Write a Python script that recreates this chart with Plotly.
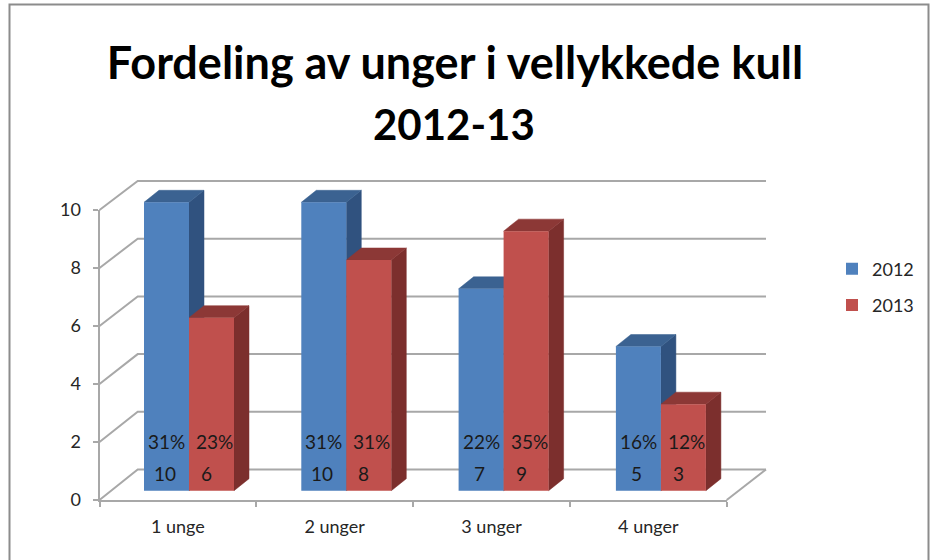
import plotly.graph_objects as go

categories = ["1 unge", "2 unger", "3 unger", "4 unger"]
values_2012 = [10, 10, 7, 5]
values_2013 = [6, 8, 9, 3]
pct_2012 = ["31%", "31%", "22%", "16%"]
pct_2013 = ["23%", "31%", "35%", "12%"]
y_ticks = [0, 2, 4, 6, 8, 10]

W, H = 934, 560
FONT = "Lato"
BLUE, BLUE_SIDE, BLUE_TOP = "#4F81BD", "#30527F", "#3B6291"
RED, RED_SIDE, RED_TOP = "#C0504D", "#7C2F2D", "#8C3836"
GRID = "#A8A8A8"
TXT = "#262626"

# pixel geometry of the pseudo-3D box
PX_PER_CAT, PX_PER_VAL = 157.3, 28.84
X0_PX, Y0_PX = 189.0, 490.7
BAR_W = 45.0 / PX_PER_CAT
DX, DY = 15.0 / PX_PER_CAT, 12.0 / PX_PER_VAL


def fx(px):
    return (px - X0_PX) / PX_PER_CAT


def fy(py):
    return (Y0_PX - py) / PX_PER_VAL


def faces(values, left):
    side_x, side_y, top_x, top_y = [], [], [], []
    for i, v in enumerate(values):
        a = i + left
        b = a + BAR_W
        side_x += [b, b + DX, b + DX, b, b, None]
        side_y += [0, DY, v + DY, v, 0, None]
        top_x += [a, a + DX, b + DX, b, a, None]
        top_y += [v, v + DY, v + DY, v, v, None]
    return side_x, side_y, top_x, top_y


fig = go.Figure()

# real axes (carries ticks, tick labels and the floor's front edge)
fig.add_trace(go.Scatter(x=categories, y=values_2012, mode="none", xaxis="x", yaxis="y",
                         showlegend=False, hoverinfo="skip"))

# walls and floor of the box
wall_x, wall_y = [], []
for v in y_ticks:
    wall_x += [fx(99.5), fx(137.7), fx(766), None]
    wall_y += [fy(500 - 29 * v), fy(469.5 - 28.85 * v), fy(469.5 - 28.85 * v), None]
wall_x += [fx(766), fx(726.7)]
wall_y += [fy(469.5), fy(500)]
fig.add_trace(go.Scatter(x=wall_x, y=wall_y, mode="lines", line=dict(color=GRID, width=2),
                         xaxis="x2", yaxis="y2", showlegend=False, hoverinfo="skip"))

# side and top faces, back to front
for values, left, side_c, top_c in [(values_2012, -BAR_W, BLUE_SIDE, BLUE_TOP),
                                    (values_2013, 0.0, RED_SIDE, RED_TOP)]:
    sx, sy, tx, ty = faces(values, left)
    for xs, ys, col in [(sx, sy, side_c), (tx, ty, top_c)]:
        fig.add_trace(go.Scatter(x=xs, y=ys, mode="lines", fill="toself", fillcolor=col,
                                 line=dict(color=col, width=0.5), xaxis="x2", yaxis="y2",
                                 showlegend=False, hoverinfo="skip"))

# front faces
idx = list(range(len(categories)))
fig.add_trace(go.Bar(x=idx, y=values_2012, name="2012", marker=dict(color=BLUE, line_width=0),
                     xaxis="x3", yaxis="y3", legendgroup="2012"))
fig.add_trace(go.Bar(x=idx, y=values_2013, name="2013", marker=dict(color=RED, line_width=0),
                     xaxis="x3", yaxis="y3", legendgroup="2013"))

# data labels inside the bars
annotations = []
for i in idx:
    for txt, v_off, x_off, y_val in [
        (pct_2012[i], -BAR_W / 2, 0, fy(441)),
        (pct_2013[i], BAR_W / 2, 3, fy(441)),
        (str(values_2012[i]), -BAR_W / 2, -2, fy(473)),
        (str(values_2013[i]), BAR_W / 2, -5, fy(473)),
    ]:
        annotations.append(dict(x=i + v_off, y=y_val, xref="x3", yref="y3", text=txt,
                                showarrow=False, xshift=x_off,
                                font=dict(family=FONT, size=19, color="#1a1a1a")))

annotations.append(dict(x=454 / W, y=1 - 124 / H, xref="paper", yref="paper", text="<b>2012-13</b>",
                        showarrow=False, xanchor="center", yanchor="middle",
                        font=dict(family=FONT, size=42, color="#000000")))

range_x = [fx(0), fx(W)]
range_y = [fy(H), fy(0)]
hidden = dict(visible=False, showgrid=False, zeroline=False, automargin=False)

fig.update_layout(
    width=W, height=H, autosize=False,
    margin=dict(l=0, r=0, t=0, b=0, pad=0),
    paper_bgcolor="white", plot_bgcolor="rgba(0,0,0,0)",
    font=dict(family=FONT, color=TXT, size=18),
    barmode="group", bargap=1 - 2 * BAR_W, bargroupgap=0,
    title=dict(text="<b>Fordeling av unger i vellykkede kull</b>", x=455 / W, xanchor="center",
               y=1 - 63 / H, yanchor="middle", font=dict(family=FONT, size=45, color="#000000")),
    xaxis=dict(domain=[99.5 / W, 726.7 / W], type="category", categoryorder="array",
               categoryarray=categories, range=[-0.5, 3.5], tickson="boundaries", anchor="y",
               ticks="outside", ticklen=5, tickcolor=GRID, tickwidth=2, showline=True,
               linecolor=GRID, linewidth=2, showgrid=False, zeroline=False, automargin=False,
               tickfont=dict(family=FONT, size=18, color=TXT), ticklabelstandoff=9),
    yaxis=dict(domain=[1 - 500 / H, 1 - 210 / H], range=[0, 10], tickvals=y_ticks, anchor="x",
               ticks="outside", ticklen=5, tickcolor=GRID, tickwidth=2, showline=True,
               linecolor=GRID, linewidth=2, showgrid=False, zeroline=False, automargin=False,
               tickfont=dict(family=FONT, size=18, color=TXT), ticklabelstandoff=8),
    xaxis2=dict(domain=[0, 1], range=range_x, anchor="y2", **hidden),
    yaxis2=dict(domain=[0, 1], range=range_y, anchor="x2", **hidden),
    xaxis3=dict(domain=[0, 1], range=range_x, anchor="y3", **hidden),
    yaxis3=dict(domain=[0, 1], range=range_y, anchor="x3", **hidden),
    legend=dict(x=832 / W, xanchor="left", y=1 - 250.5 / H, yanchor="top", tracegroupgap=10,
                bgcolor="rgba(0,0,0,0)", font=dict(family=FONT, size=18, color=TXT)),
    annotations=annotations,
    shapes=[dict(type="rect", xref="paper", yref="paper", x0=9.5 / W, x1=928.5 / W,
                 y0=-0.05, y1=1 - 4.5 / H, line=dict(color="#8C8C8C", width=2),
                 fillcolor="rgba(0,0,0,0)", layer="below")],
)

fig.write_html("out.html", config={"displayModeBar": False},
               post_script="document.body.style.margin='0';")
